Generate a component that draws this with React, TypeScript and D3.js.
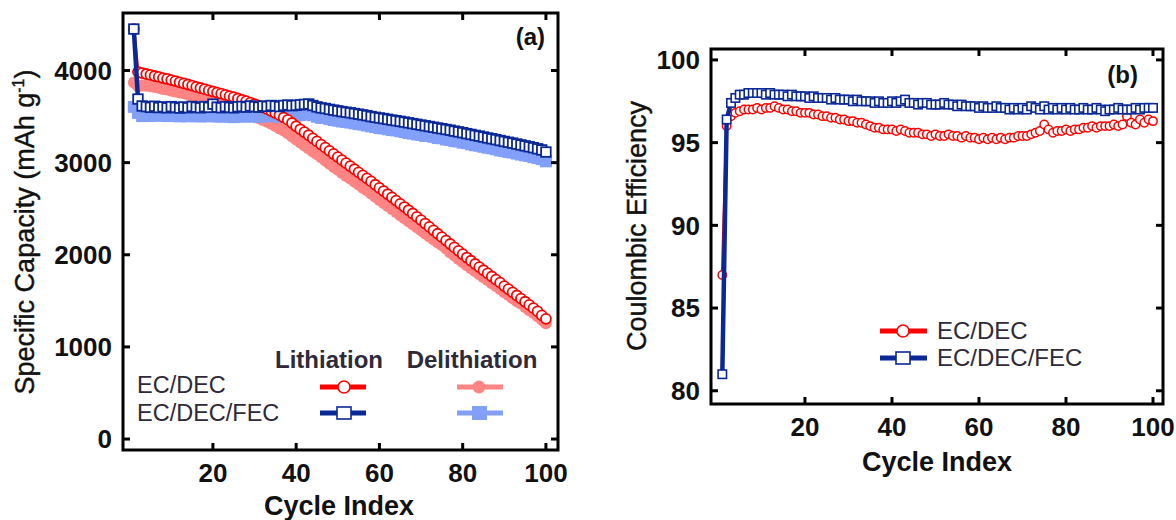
import React from 'react';
import * as d3 from 'd3';

// ---------- DATA ----------
const cycles = d3.range(1, 101);
const capTicks = [0, 1000, 2000, 3000, 4000];
const cycleTicks = [20, 40, 60, 80, 100];
const ceTicks = [80, 85, 90, 95, 100];

// (a) EC/DEC lithiation capacity (mAh/g)
const lithECDEC = [
  4450, 3985, 3972, 3962, 3952, 3940, 3930, 3918, 3908, 3896,
  3885, 3872, 3860, 3848, 3836, 3822, 3810, 3797, 3784, 3772,
  3760, 3748, 3736, 3722, 3710, 3696, 3682, 3668, 3652, 3636,
  3618, 3600, 3580, 3560, 3538, 3515, 3490, 3464, 3430, 3395,
  3362, 3330, 3297, 3264, 3230, 3196, 3162, 3128, 3094, 3060,
  3027, 2994, 2961, 2928, 2895, 2862, 2829, 2796, 2760, 2725,
  2691, 2657, 2623, 2588, 2553, 2518, 2483, 2448, 2412, 2376,
  2339, 2302, 2265, 2228, 2191, 2154, 2117, 2080, 2043, 2006,
  1970, 1935, 1900, 1866, 1832, 1798, 1764, 1730, 1697, 1660,
  1626, 1592, 1558, 1524, 1490, 1456, 1420, 1385, 1342, 1305,
];
// (a) EC/DEC delithiation capacity
const delithECDEC = [
  3870, 3830, 3838, 3835, 3829, 3822, 3812, 3800, 3793, 3780,
  3772, 3760, 3752, 3739, 3722, 3708, 3692, 3680, 3663, 3652,
  3640, 3625, 3613, 3597, 3585, 3567, 3554, 3536, 3520, 3502,
  3484, 3463, 3444, 3422, 3397, 3371, 3348, 3318, 3284, 3252,
  3218, 3186, 3154, 3120, 3090, 3058, 3022, 2989, 2952, 2923,
  2887, 2856, 2828, 2794, 2763, 2728, 2699, 2665, 2630, 2594,
  2563, 2529, 2497, 2463, 2430, 2396, 2363, 2332, 2299, 2266,
  2231, 2199, 2165, 2132, 2105, 2067, 2024, 1991, 1955, 1922,
  1885, 1854, 1820, 1789, 1757, 1726, 1691, 1661, 1629, 1594,
  1562, 1527, 1496, 1472, 1433, 1398, 1370, 1333, 1294, 1257,
];
// (a) EC/DEC/FEC lithiation capacity
const lithFEC = [
  4450, 3690, 3615, 3608, 3600, 3612, 3598, 3605, 3595, 3608,
  3600, 3592, 3604, 3596, 3610, 3602, 3595, 3608, 3600, 3635,
  3602, 3596, 3608, 3600, 3595, 3606, 3610, 3602, 3615, 3608,
  3602, 3614, 3610, 3620, 3615, 3608, 3620, 3625, 3618, 3622,
  3628, 3632, 3636, 3620, 3605, 3594, 3588, 3578, 3570, 3562,
  3554, 3547, 3541, 3533, 3526, 3518, 3510, 3500, 3492, 3485,
  3478, 3470, 3462, 3455, 3448, 3440, 3432, 3424, 3416, 3408,
  3400, 3392, 3384, 3376, 3368, 3360, 3352, 3342, 3334, 3325,
  3315, 3306, 3296, 3288, 3278, 3268, 3259, 3250, 3240, 3230,
  3221, 3212, 3202, 3192, 3182, 3172, 3162, 3150, 3138, 3115,
];
// (a) EC/DEC/FEC delithiation capacity
const delithFEC = [
  3605, 3540, 3505, 3508, 3506, 3518, 3508, 3515, 3505, 3518,
  3506, 3502, 3510, 3503, 3516, 3505, 3501, 3511, 3503, 3537,
  3501, 3499, 3507, 3499, 3494, 3502, 3509, 3498, 3511, 3504,
  3494, 3508, 3502, 3511, 3506, 3497, 3510, 3513, 3506, 3513,
  3517, 3525, 3535, 3514, 3498, 3486, 3484, 3473, 3463, 3455,
  3447, 3442, 3435, 3427, 3418, 3413, 3403, 3394, 3386, 3376,
  3372, 3362, 3354, 3350, 3341, 3332, 3321, 3316, 3306, 3301,
  3290, 3289, 3280, 3267, 3265, 3251, 3247, 3234, 3229, 3217,
  3211, 3199, 3189, 3183, 3172, 3162, 3156, 3145, 3132, 3125,
  3116, 3110, 3098, 3088, 3079, 3072, 3059, 3050, 3038, 3014,
];
// (b) Coulombic efficiency (%)
const ceECDEC = [
  87.0, 96.0, 96.6, 96.8, 96.9, 97.0, 97.0, 97.0, 97.1, 97.0,
  97.1, 97.1, 97.2, 97.1, 97.0, 97.0, 96.9, 96.9, 96.8, 96.8,
  96.8, 96.7, 96.7, 96.6, 96.6, 96.5, 96.5, 96.4, 96.4, 96.3,
  96.3, 96.2, 96.2, 96.1, 96.0, 95.9, 95.9, 95.8, 95.8, 95.8,
  95.7, 95.8, 95.7, 95.6, 95.6, 95.6, 95.5, 95.5, 95.4, 95.5,
  95.4, 95.4, 95.5, 95.4, 95.4, 95.3, 95.4, 95.3, 95.3, 95.2,
  95.3, 95.2, 95.3, 95.2, 95.3, 95.2, 95.3, 95.3, 95.4, 95.4,
  95.4, 95.5, 95.6, 95.7, 96.1, 95.8, 95.6, 95.7, 95.7, 95.8,
  95.7, 95.8, 95.8, 95.9, 95.9, 96.0, 95.9, 96.0, 96.0, 96.0,
  96.1, 96.0, 96.1, 96.6, 96.2, 96.1, 96.4, 96.2, 96.4, 96.3,
];
const ceFEC = [
  81.0, 96.4, 97.4, 97.7, 97.9, 97.9, 98.0, 98.0, 98.0, 98.0,
  97.9, 98.0, 97.9, 97.9, 97.9, 97.8, 97.9, 97.8, 97.8, 97.8,
  97.7, 97.8, 97.7, 97.7, 97.7, 97.6, 97.7, 97.6, 97.6, 97.6,
  97.5, 97.6, 97.5, 97.5, 97.5, 97.4, 97.5, 97.4, 97.4, 97.5,
  97.4, 97.5, 97.6, 97.4, 97.4, 97.3, 97.4, 97.4, 97.3, 97.3,
  97.3, 97.4, 97.3, 97.3, 97.2, 97.3, 97.2, 97.2, 97.2, 97.1,
  97.2, 97.1, 97.1, 97.2, 97.1, 97.1, 97.0, 97.1, 97.0, 97.1,
  97.0, 97.2, 97.1, 97.0, 97.2, 97.0, 97.1, 97.0, 97.1, 97.0,
  97.1, 97.0, 97.0, 97.1, 97.0, 97.0, 97.1, 97.0, 96.9, 97.0,
  97.0, 97.1, 97.0, 97.0, 97.0, 97.1, 97.0, 97.1, 97.1, 97.1,
];

const FONT = '"Liberation Sans", Arial, Helvetica, sans-serif';
const RED = '#ff0000';
const PINK = '#ff8484';
const BLUE = '#0a2896';
const LBLUE = '#82a0fa';
const TXT = '#2e2a3a';

type Sc = d3.ScaleLinear<number, number>;

function Frame({ x, y, xt, yt }: { x: Sc; y: Sc; xt: number[]; yt: number[] }) {
  const [l, r] = x.range();
  const [b, t] = y.range();
  const tl = 7;
  return (
    <g>
      {xt.map((v) => (
        <g key={'x' + v}>
          <line x1={x(v)} x2={x(v)} y1={b} y2={b - tl} stroke="#000" strokeWidth={3} />
          <line x1={x(v)} x2={x(v)} y1={t} y2={t + tl} stroke="#000" strokeWidth={3} />
          <text x={x(v)} y={b + 32} textAnchor="middle" fontFamily={FONT} fontWeight="bold" fontSize={26} fill="#111">{v}</text>
        </g>
      ))}
      {yt.map((v) => (
        <g key={'y' + v}>
          <line x1={l} x2={l + tl} y1={y(v)} y2={y(v)} stroke="#000" strokeWidth={3} />
          <line x1={r} x2={r - tl} y1={y(v)} y2={y(v)} stroke="#000" strokeWidth={3} />
          <text x={l - 11} y={y(v)} dy="0.36em" textAnchor="end" fontFamily={FONT} fontWeight="bold" fontSize={26} fill="#111">{v}</text>
        </g>
      ))}
      <rect x={l} y={t} width={r - l} height={b - t} fill="none" stroke="#000" strokeWidth={3} />
    </g>
  );
}

export default function App() {
  const xA = d3.scaleLinear().domain([-1.6, 102.9]).range([123, 558]);
  const yA = d3.scaleLinear().domain([-119, 4624]).range([450, 13]);
  const xB = d3.scaleLinear().domain([-1.6, 102.3]).range([711, 1163]);
  const yB = d3.scaleLinear().domain([79.2, 100.66]).range([404, 49]);

  const lineA = (vals: number[]) =>
    d3.line<number>().x((_, i) => xA(cycles[i])).y((d) => yA(d))(vals) || '';
  const lineB = (vals: number[]) =>
    d3.line<number>().x((_, i) => xB(cycles[i])).y((d) => yB(d))(vals) || '';

  return (
    <div style={{ position: 'fixed', left: 0, top: 0 }}>
      <svg width={1176} height={520} style={{ display: 'block', background: '#fff' }}>
        {/* ---------- Panel (a) ---------- */}
        <g>
          {/* delithiation (filled, light) */}
          <path d={lineA(delithECDEC)} fill="none" stroke={PINK} strokeWidth={4} />
          {delithECDEC.map((v, i) => (
            <circle key={'pd' + i} cx={xA(cycles[i])} cy={yA(v)} r={6} fill={PINK} />
          ))}
          <path d={lineA(delithFEC)} fill="none" stroke={LBLUE} strokeWidth={4} />
          {delithFEC.map((v, i) => (
            <rect key={'bd' + i} x={xA(cycles[i]) - 6} y={yA(v) - 6} width={12} height={12} fill={LBLUE} />
          ))}
          {/* lithiation (open) */}
          <path d={lineA(lithECDEC)} fill="none" stroke={RED} strokeWidth={3} />
          {lithECDEC.map((v, i) => (
            <circle key={'rl' + i} cx={xA(cycles[i])} cy={yA(v)} r={5} fill="#fff" stroke={RED} strokeWidth={1.8} />
          ))}
          <path d={lineA(lithFEC)} fill="none" stroke={BLUE} strokeWidth={4.5} />
          {lithFEC.map((v, i) => (
            <rect key={'bl' + i} x={xA(cycles[i]) - 4.8} y={yA(v) - 4.8} width={9.6} height={9.6} fill="#fff" stroke={BLUE} strokeWidth={1.8} />
          ))}
          <Frame x={xA} y={yA} xt={cycleTicks} yt={capTicks} />
          <text x={339} y={515} textAnchor="middle" fontFamily={FONT} fontWeight="bold" fontSize={27} fill="#111">Cycle Index</text>
          <text transform={`translate(34,232) rotate(-90)`} textAnchor="middle" fontFamily={FONT} fontSize={27} fill="#111" stroke="#111" strokeWidth={0.4}>
            Specific Capacity (mAh g<tspan dy={-10} fontSize={16}>-1</tspan><tspan dy={10}>)</tspan>
          </text>
          <text x={545} y={45} textAnchor="end" fontFamily={FONT} fontWeight="bold" fontSize={24} fill="#111">(a)</text>
          {/* legend */}
          <text x={329} y={368} textAnchor="middle" fontFamily={FONT} fontWeight="bold" fontSize={24} fill={TXT}>Lithiation</text>
          <text x={472} y={368} textAnchor="middle" fontFamily={FONT} fontWeight="bold" fontSize={24} fill={TXT}>Delithiation</text>
          <text x={137} y={393} fontFamily={FONT} fontSize={23.5} fill={TXT}>EC/DEC</text>
          <text x={137} y={421} fontFamily={FONT} fontSize={23.5} fill={TXT}>EC/DEC/FEC</text>
          <line x1={320} x2={366} y1={387} y2={387} stroke={RED} strokeWidth={5} />
          <circle cx={344} cy={387} r={6} fill="#fff" stroke={RED} strokeWidth={1.6} />
          <line x1={457} x2={503} y1={387} y2={387} stroke={PINK} strokeWidth={5} />
          <circle cx={479} cy={387} r={6.5} fill={PINK} />
          <line x1={320} x2={366} y1={413} y2={413} stroke={BLUE} strokeWidth={5} />
          <rect x={337} y={407} width={14} height={12} fill="#fff" stroke={BLUE} strokeWidth={1.6} />
          <line x1={457} x2={503} y1={413} y2={413} stroke={LBLUE} strokeWidth={5} />
          <rect x={472} y={406} width={15} height={14} fill={LBLUE} />
        </g>

        {/* ---------- Panel (b) ---------- */}
        <g>
          <path d={lineB(ceECDEC)} fill="none" stroke={RED} strokeWidth={3} />
          {ceECDEC.map((v, i) => (
            <circle key={'rc' + i} cx={xB(cycles[i])} cy={yB(v)} r={4.2} fill="#fff" stroke={RED} strokeWidth={1.5} />
          ))}
          <path d={lineB(ceFEC)} fill="none" stroke={BLUE} strokeWidth={4.5} />
          {ceFEC.map((v, i) => (
            <rect key={'bc' + i} x={xB(cycles[i]) - 4.2} y={yB(v) - 4.2} width={8.4} height={8.4} fill="#fff" stroke={BLUE} strokeWidth={1.6} />
          ))}
          <Frame x={xB} y={yB} xt={cycleTicks} yt={ceTicks} />
          <text x={937} y={471} textAnchor="middle" fontFamily={FONT} fontWeight="bold" fontSize={27} fill="#111">Cycle Index</text>
          <text transform={`translate(646,226) rotate(-90)`} textAnchor="middle" fontFamily={FONT} fontSize={27} fill="#111" stroke="#111" strokeWidth={0.4}>Coulombic Efficiency</text>
          <text x={1138} y={83} textAnchor="end" fontFamily={FONT} fontWeight="bold" fontSize={24} fill="#111">(b)</text>
          {/* legend */}
          <line x1={880} x2={927} y1={331} y2={331} stroke={RED} strokeWidth={5} />
          <circle cx={903} cy={331} r={6} fill="#fff" stroke={RED} strokeWidth={1.6} />
          <line x1={880} x2={927} y1={358} y2={358} stroke={BLUE} strokeWidth={5} />
          <rect x={896} y={352} width={14} height={12} fill="#fff" stroke={BLUE} strokeWidth={1.6} />
          <text x={937} y={339} fontFamily={FONT} fontSize={24} fill={TXT}>EC/DEC</text>
          <text x={937} y={366} fontFamily={FONT} fontSize={24} fill={TXT}>EC/DEC/FEC</text>
        </g>
      </svg>
    </div>
  );
}
